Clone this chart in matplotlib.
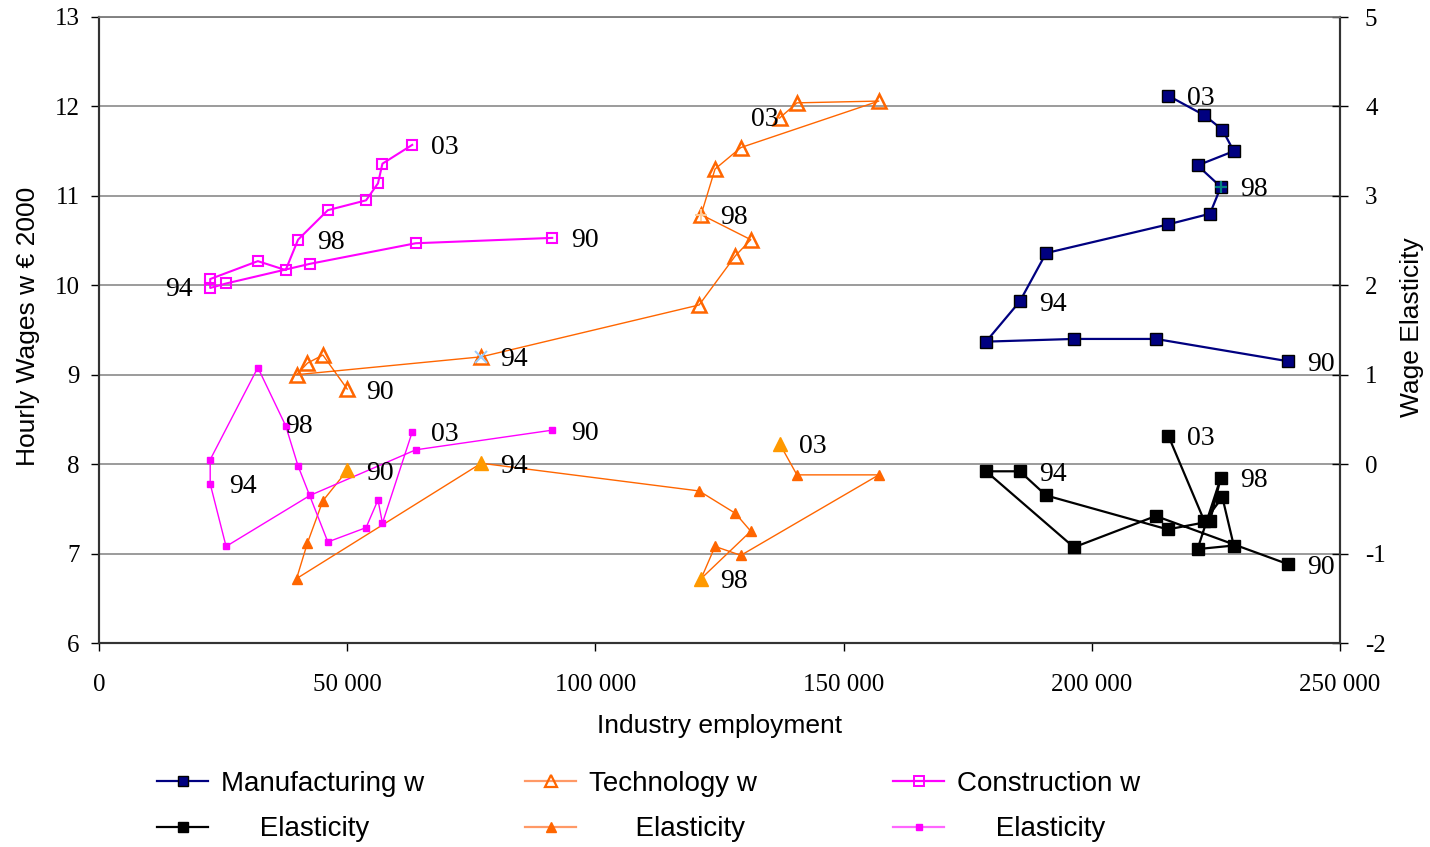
import matplotlib
matplotlib.use("Agg")
import matplotlib.pyplot as plt
from matplotlib.lines import Line2D
from matplotlib.ticker import FuncFormatter, MultipleLocator

plt.rcParams["axes.unicode_minus"] = False
SERIF = "Liberation Serif"
SANS = "Liberation Sans"

# ---- data (1990 .. 2003) -------------------------------------------------
years = ["90", "91", "92", "93", "94", "95", "96", "97", "98", "99", "00", "01", "02", "03"]
labelled = [0, 4, 8, 13]   # indices that carry a year label

manu_emp = [239600, 212900, 196400, 178700, 185500, 190800, 215300,
            223800, 226000, 221300, 228600, 226300, 222700, 215400]
manu_wage = [9.15, 9.40, 9.40, 9.37, 9.82, 10.36, 10.68,
             10.80, 11.10, 11.34, 11.50, 11.74, 11.90, 12.12]
manu_elast = [-1.12, -0.58, -0.93, -0.08, -0.08, -0.35, -0.73,
              -0.64, -0.15, -0.95, -0.91, -0.37, -0.64, 0.32]

tech_emp = [50000, 45100, 42000, 39800, 77000, 120900, 128200,
            131300, 121300, 124100, 129300, 157100, 140600, 137100]
tech_wage = [8.84, 9.22, 9.13, 9.00, 9.20, 9.78, 10.33,
             10.51, 10.79, 11.30, 11.54, 12.06, 12.04, 11.87]
tech_elast = [-0.07, -0.41, -0.88, -1.28, 0.01, -0.30, -0.55,
              -0.75, -1.28, -0.92, -1.02, -0.12, -0.12, 0.23]

cons_emp = [91300, 63800, 42500, 25600, 22400, 22400, 32000,
            37600, 40100, 46100, 53800, 56200, 57100, 63100]
cons_wage = [10.53, 10.47, 10.24, 10.02, 9.97, 10.07, 10.27,
             10.17, 10.51, 10.84, 10.95, 11.14, 11.36, 11.57]
cons_elast = [0.38, 0.16, -0.35, -0.92, -0.22, 0.05, 1.08,
              0.43, -0.02, -0.87, -0.71, -0.40, -0.66, 0.36]

NAVY = "#000080"
ORANGE = "#FF6600"
LIGHT_ORANGE = "#FF9900"
MAGENTA = "#FF00FF"

fig = plt.figure(figsize=(14.3, 8.47), dpi=100)
ax = fig.add_axes([99 / 1430, 1 - 643 / 847, 1241 / 1430, 626 / 847])
ax2 = ax.twinx()

# ---- wage series (left axis) --------------------------------------------
ax.plot(manu_emp, manu_wage, color=NAVY, lw=1.6, marker="s", ms=8,
        mfc=NAVY, mec="black", mew=1.0, zorder=3)
ax.plot(manu_emp[8], manu_wage[8], marker="+", ms=9, mew=1.6,
        color="#008080", zorder=4)
ax.plot(tech_emp, tech_wage, color=ORANGE, lw=1.0, marker="^", ms=9.5,
        mfc="none", mec=ORANGE, mew=1.8, zorder=3)
ax.plot(tech_emp[4], tech_wage[4], marker="x", ms=8, mew=1.4,
        color="#99CCFF", zorder=4)
ax.plot(tech_emp[8], tech_wage[8], marker="+", ms=9, mew=1.4,
        color="#FFCC99", zorder=4)
ax.plot(cons_emp, cons_wage, color=MAGENTA, lw=1.5, marker="s", ms=7.5,
        mfc="none", mec=MAGENTA, mew=1.5, zorder=3)

# ---- elasticity series (right axis) -------------------------------------
ax2.plot(manu_emp, manu_elast, color="black", lw=1.6, marker="s", ms=8,
         mfc="black", mec="black", zorder=3)
ax2.plot(tech_emp, tech_elast, color=ORANGE, lw=1.0, marker="^", ms=7.5,
         mfc=ORANGE, mec=ORANGE, zorder=3)
ax2.plot([tech_emp[i] for i in labelled], [tech_elast[i] for i in labelled],
         ls="none", marker="^", ms=10.5, mfc=LIGHT_ORANGE, mec=LIGHT_ORANGE, zorder=4)
ax2.plot(cons_emp, cons_elast, color=MAGENTA, lw=1.0, marker="s", ms=5,
         mfc=MAGENTA, mec=MAGENTA, zorder=3)

# ---- year labels ---------------------------------------------------------
def year_labels(axis, xs, ys, offsets):
    for i in labelled:
        dx, dy, ha = offsets.get(i, (19, -3, "left"))
        axis.annotate(years[i], (xs[i], ys[i]), xytext=(dx, dy),
                      textcoords="offset pixels", ha=ha, va="center",
                      fontsize=20, family=SERIF, color="black", zorder=6)

year_labels(ax, manu_emp, manu_wage, {})
year_labels(ax2, manu_emp, manu_elast, {})
year_labels(ax, tech_emp, tech_wage, {13: (-1, -1, "right")})
year_labels(ax2, tech_emp, tech_elast, {})
year_labels(ax, cons_emp, cons_wage, {4: (-17, -2, "right")})
year_labels(ax2, cons_emp, cons_elast, {8: (-13, 39, "left")})

# ---- axes ----------------------------------------------------------------
ax.set_xlim(0, 250000)
ax.set_ylim(6, 13)
ax2.set_ylim(-2, 5)
ax.xaxis.set_major_locator(MultipleLocator(50000))
ax.yaxis.set_major_locator(MultipleLocator(1))
ax2.yaxis.set_major_locator(MultipleLocator(1))
ax.xaxis.set_major_formatter(FuncFormatter(lambda v, p: f"{int(v):,}".replace(",", " ")))

ax.grid(axis="y", color="#808080", lw=1.1)
ax.set_axisbelow(True)
for a in (ax, ax2):
    a.spines["top"].set_color("#808080")
    a.spines["top"].set_linewidth(1.1)
    for s in ("left", "right", "bottom"):
        a.spines[s].set_color("#333333")
        a.spines[s].set_linewidth(1.5)

ax.tick_params(axis="y", direction="out", length=6, width=1, pad=8, labelsize=18)
ax.tick_params(axis="x", direction="out", length=6, width=1, pad=16, labelsize=18)
ax2.tick_params(axis="y", direction="inout", length=12, width=1, pad=12, labelsize=18)
for lab in ax.get_xticklabels() + ax.get_yticklabels() + ax2.get_yticklabels():
    lab.set_family(SERIF)

ax.set_xlabel("Industry employment", fontsize=19, family=SANS)
ax.xaxis.set_label_coords(0.5, -0.133)
ax.xaxis.label.set_va("center")
ax.set_ylabel("Hourly Wages w \u20ac 2000", fontsize=19, family=SANS)
ax.yaxis.set_label_coords(-0.057, 0.505)
ax.yaxis.label.set_va("center")
ax2.set_ylabel("Wage Elasticity", fontsize=19, family=SANS)
ax2.yaxis.set_label_coords(1.058, 0.505)
ax2.yaxis.label.set_va("center")

# ---- legend: three columns, two rows -------------------------------------
columns = [
    ("Manufacturing w", dict(color=NAVY, lw=1.6, marker="s", ms=7, mfc=NAVY, mec="black"),
     dict(color="black", lw=1.6, marker="s", ms=7, mfc="black", mec="black"), 157, 5),
    ("Technology w", dict(color="#FF9966", lw=1.6, marker="^", ms=8, mfc="none", mec=ORANGE, mew=1.6),
     dict(color="#FF9966", lw=1.6, marker="^", ms=6.5, mfc=ORANGE, mec=ORANGE), 525, 6),
    ("Construction w", dict(color=MAGENTA, lw=1.6, marker="s", ms=6.5, mfc="none", mec=MAGENTA, mew=1.4),
     dict(color="#FF66FF", lw=1.6, marker="s", ms=4.5, mfc=MAGENTA, mec=MAGENTA), 893, 5),
]
for name, wstyle, estyle, x0, indent in columns:
    handles = [Line2D([], [], **wstyle), Line2D([], [], **estyle)]
    fig.legend(handles, [name, " " * indent + "Elasticity"], loc="center left",
               bbox_to_anchor=(x0 / 1430, 1 - 806.5 / 847), frameon=False,
               borderpad=0, borderaxespad=0, handlelength=1.85,
               handletextpad=0.45, labelspacing=0.7,
               prop={"family": SANS, "size": 20})

fig.savefig("out.png", dpi=100)
